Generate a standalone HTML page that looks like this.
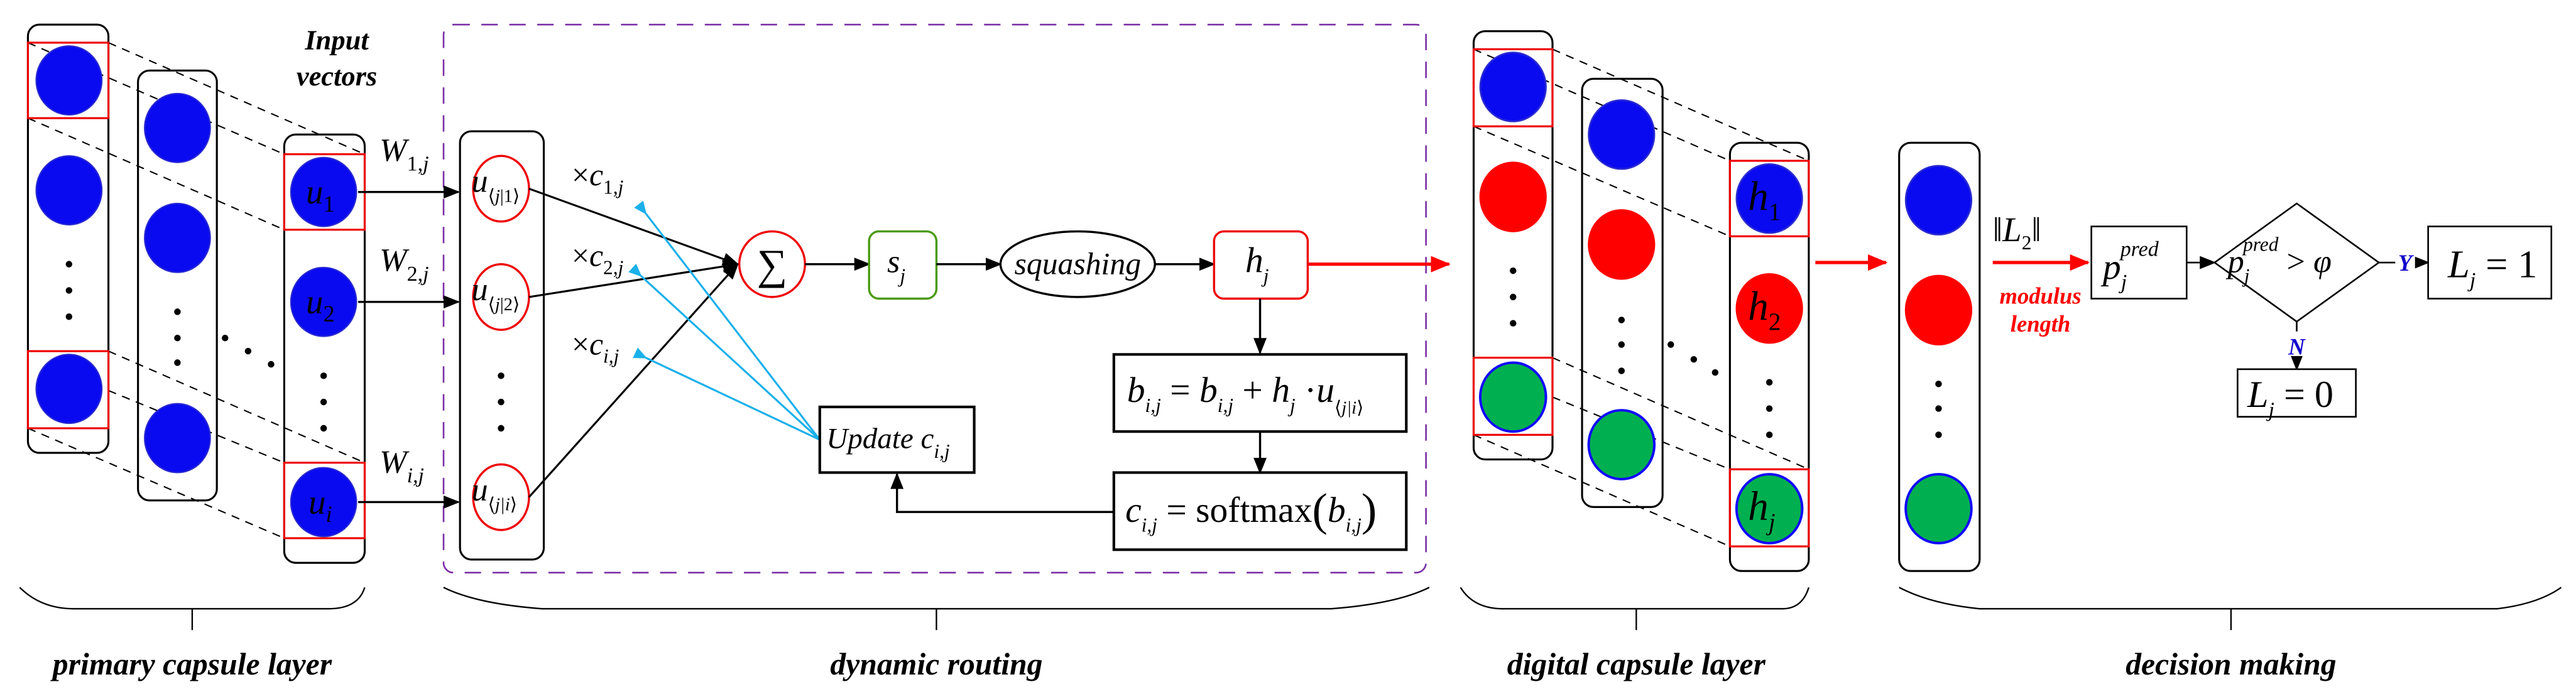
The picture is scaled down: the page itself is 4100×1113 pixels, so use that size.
<!DOCTYPE html>
<html><head><meta charset="utf-8"><style>
html,body{margin:0;padding:0;background:#fff;}
svg{display:block;font-family:"Liberation Serif","DejaVu Serif",serif;}
text,tspan{font-family:"Liberation Serif","DejaVu Serif",serif;}
.m{font-style:italic;}
</style></head><body>
<svg width="4100" height="1113" viewBox="0 0 1568 426" preserveAspectRatio="none" xmlns="http://www.w3.org/2000/svg" font-family="Liberation Serif, DejaVu Serif, serif">
<defs>
<marker id="ak" markerWidth="10" markerHeight="8" refX="9" refY="4" orient="auto" markerUnits="userSpaceOnUse"><path d="M0,0 L10,4 L0,8 z" fill="#000"/></marker>
<marker id="ar" markerWidth="12" markerHeight="10" refX="11" refY="5" orient="auto" markerUnits="userSpaceOnUse"><path d="M0,0 L12,5 L0,10 z" fill="#f00"/></marker>
<marker id="ab" markerWidth="8" markerHeight="7" refX="1" refY="3.5" orient="auto" markerUnits="userSpaceOnUse"><path d="M8,0 L0,3.5 L8,7 z" fill="#1ab0ea"/></marker>
</defs>
<rect width="1568" height="426" fill="#fff"/>

<rect x="270" y="15" width="598" height="334" rx="6" fill="none" stroke="#7b2fa6" stroke-width="1" stroke-dasharray="10,7"/>

<g stroke="#000" stroke-width="0.8" stroke-dasharray="5,4" fill="none">
<line x1="17" y1="26" x2="173" y2="94"/><line x1="66" y1="26" x2="222" y2="94"/><line x1="17" y1="72" x2="173" y2="140"/>
<line x1="66" y1="214" x2="222" y2="282"/><line x1="66" y1="238" x2="173" y2="282"/><line x1="17" y1="261" x2="173" y2="328"/>
</g>
<g stroke="#000" stroke-width="1.2" fill="none">
<rect x="17" y="15" width="49" height="261" rx="7"/>
<rect x="84" y="43" width="48" height="262" rx="7"/>
<rect x="173" y="82" width="49" height="261" rx="7"/>
</g>
<g fill="#0a0af0" stroke="#2a2ad0" stroke-width="0.8">
<ellipse cx="42" cy="49" rx="20" ry="21"/><ellipse cx="42" cy="116" rx="20" ry="21"/><ellipse cx="42" cy="237" rx="20" ry="21"/>
<ellipse cx="108" cy="78" rx="20" ry="21"/><ellipse cx="108" cy="145" rx="20" ry="21"/><ellipse cx="108" cy="267" rx="20" ry="21"/>
<ellipse cx="197" cy="117" rx="20" ry="21"/><ellipse cx="197" cy="184" rx="20" ry="21"/><ellipse cx="197" cy="306" rx="20" ry="21"/>
</g>
<g fill="none" stroke="#e00" stroke-width="1.2">
<rect x="17" y="26" width="49" height="46"/><rect x="17" y="214" width="49" height="47"/>
<rect x="173" y="94" width="49" height="46"/><rect x="173" y="282" width="49" height="46"/>
</g>
<g fill="#000">
<circle cx="42" cy="161" r="2"/><circle cx="42" cy="177" r="2"/><circle cx="42" cy="193" r="2"/>
<circle cx="108" cy="190" r="2"/><circle cx="108" cy="206" r="2"/><circle cx="108" cy="221" r="2"/>
<circle cx="137" cy="206" r="2"/><circle cx="151" cy="214" r="2"/><circle cx="165" cy="222" r="2"/>
<circle cx="197" cy="229" r="2"/><circle cx="197" cy="245" r="2"/><circle cx="197" cy="261" r="2"/>
</g>
<g font-size="21" class="m" text-anchor="middle">
<text x="195" y="124" class="m">u<tspan font-size="14" dy="5" font-style="normal">1</tspan></text>
<text x="195" y="191" class="m">u<tspan font-size="14" dy="5" font-style="normal">2</tspan></text>
<text x="195" y="313" class="m">u<tspan font-size="14" dy="5">i</tspan></text>
</g>
<text x="205" y="30" font-size="17" font-weight="bold" font-style="italic" text-anchor="middle">Input</text>
<text x="205" y="52" font-size="17" font-weight="bold" font-style="italic" text-anchor="middle">vectors</text>

<g stroke="#000" stroke-width="1.3" marker-end="url(#ak)">
<line x1="218" y1="117" x2="279" y2="117"/><line x1="218" y1="184" x2="279" y2="184"/><line x1="218" y1="306" x2="279" y2="306"/>
</g>
<g font-size="20" class="m">
<text x="231" y="98" class="m">W<tspan font-size="13" dy="6" font-style="normal">1,</tspan><tspan font-size="13">j</tspan></text>
<text x="231" y="165" class="m">W<tspan font-size="13" dy="6" font-style="normal">2,</tspan><tspan font-size="13">j</tspan></text>
<text x="231" y="288" class="m">W<tspan font-size="13" dy="6">i,j</tspan></text>
</g>

<rect x="280" y="80" width="51" height="261" rx="7" fill="none" stroke="#000" stroke-width="1.2"/>
<g fill="#fff" stroke="#e00" stroke-width="1.3">
<ellipse cx="305" cy="115" rx="17" ry="20"/><ellipse cx="305" cy="181" rx="17" ry="20"/><ellipse cx="305" cy="303" rx="17" ry="20"/>
</g>
<g fill="#000"><circle cx="305" cy="229" r="2"/><circle cx="305" cy="245" r="2"/><circle cx="305" cy="261" r="2"/></g>
<g font-size="20" class="m">
<text x="287" y="117" class="m">u<tspan font-size="11" dy="6" font-style="normal">⟨</tspan><tspan font-size="11" class="m">j</tspan><tspan font-size="11" font-style="normal">|1⟩</tspan></text>
<text x="287" y="183" class="m">u<tspan font-size="11" dy="6" font-style="normal">⟨</tspan><tspan font-size="11" class="m">j</tspan><tspan font-size="11" font-style="normal">|2⟩</tspan></text>
<text x="287" y="305" class="m">u<tspan font-size="11" dy="6" font-style="normal">⟨</tspan><tspan font-size="11" class="m">j|i</tspan><tspan font-size="11" font-style="normal">⟩</tspan></text>
</g>
<g font-size="19">
<text x="348" y="113">×<tspan class="m">c</tspan><tspan font-size="12" dy="5" font-style="normal">1,</tspan><tspan font-size="12" class="m">j</tspan></text>
<text x="348" y="162">×<tspan class="m">c</tspan><tspan font-size="12" dy="5" font-style="normal">2,</tspan><tspan font-size="12" class="m">j</tspan></text>
<text x="348" y="216">×<tspan class="m">c</tspan><tspan font-size="12" dy="5" class="m">i,j</tspan></text>
</g>
<g stroke="#000" stroke-width="1.2" marker-end="url(#ak)">
<line x1="322" y1="115" x2="449" y2="161"/><line x1="322" y1="181" x2="449" y2="161"/><line x1="322" y1="303" x2="449" y2="161"/>
</g>
<g stroke="#1ab0ea" stroke-width="1.2" marker-end="url(#ab)">
<line x1="499" y1="268" x2="393" y2="130"/><line x1="499" y1="268" x2="390" y2="168"/><line x1="499" y1="268" x2="393" y2="218"/>
</g>
<ellipse cx="470" cy="161" rx="20" ry="20" fill="#fff" stroke="#e00" stroke-width="1.3"/>
<text x="470" y="170" font-size="26" text-anchor="middle">∑</text>
<line x1="490" y1="161" x2="529" y2="161" stroke="#000" stroke-width="1.3" marker-end="url(#ak)"/>
<rect x="529" y="141" width="41" height="41" rx="6" fill="#fff" stroke="#4a9a10" stroke-width="1.3"/>
<text x="540" y="166" font-size="20" class="m">s<tspan font-size="12" dy="6">j</tspan></text>
<line x1="570" y1="161" x2="609" y2="161" stroke="#000" stroke-width="1.3" marker-end="url(#ak)"/>
<ellipse cx="656" cy="161" rx="47" ry="20" fill="#fff" stroke="#000" stroke-width="1.3"/>
<text x="656" y="167" font-size="19" class="m" text-anchor="middle">squashing</text>
<line x1="703" y1="161" x2="739" y2="161" stroke="#000" stroke-width="1.3" marker-end="url(#ak)"/>
<rect x="739" y="141" width="57" height="41" rx="6" fill="#fff" stroke="#e00" stroke-width="1.3"/>
<text x="758" y="166" font-size="22" class="m">h<tspan font-size="12" dy="6">j</tspan></text>
<line x1="796" y1="161" x2="882" y2="161" stroke="#f00" stroke-width="2" marker-end="url(#ar)"/>
<line x1="767" y1="182" x2="767" y2="215" stroke="#000" stroke-width="1.3" marker-end="url(#ak)"/>
<rect x="678" y="216" width="178" height="47" fill="#fff" stroke="#000" stroke-width="1.6"/>
<text x="686" y="245" font-size="22" class="m">b<tspan font-size="12" dy="6">i,j</tspan><tspan dy="-6" font-style="normal"> = </tspan>b<tspan font-size="12" dy="6">i,j</tspan><tspan dy="-6" font-style="normal"> + </tspan>h<tspan font-size="12" dy="6">j</tspan><tspan dy="-6" font-style="normal"> ·</tspan>u<tspan font-size="11" dy="7" font-style="normal">⟨</tspan><tspan font-size="11">j|i</tspan><tspan font-size="11" font-style="normal">⟩</tspan></text>
<line x1="767" y1="263" x2="767" y2="288" stroke="#000" stroke-width="1.3" marker-end="url(#ak)"/>
<rect x="678" y="288" width="178" height="47" fill="#fff" stroke="#000" stroke-width="1.6"/>
<text x="685" y="318" font-size="22" class="m">c<tspan font-size="12" dy="6">i,j</tspan><tspan dy="-6" font-style="normal"> = softmax</tspan><tspan font-style="normal" font-size="28" dy="2">(</tspan><tspan dy="-2">b</tspan><tspan font-size="12" dy="6">i,j</tspan><tspan font-style="normal" font-size="28" dy="-4">)</tspan></text>
<polyline points="678,312 546,312 546,289" fill="none" stroke="#000" stroke-width="1.3" marker-end="url(#ak)"/>
<rect x="499" y="248" width="94" height="40" fill="#fff" stroke="#000" stroke-width="1.6"/>
<text x="503" y="273" font-size="18" class="m">Update c<tspan font-size="12" dy="6">i,j</tspan></text>

<g stroke="#000" stroke-width="0.8" stroke-dasharray="5,4" fill="none">
<line x1="897" y1="30" x2="1053" y2="98"/><line x1="945" y1="30" x2="1101" y2="98"/><line x1="897" y1="77" x2="1053" y2="144"/>
<line x1="945" y1="218" x2="1101" y2="286"/><line x1="945" y1="242" x2="1053" y2="286"/><line x1="897" y1="265" x2="1053" y2="333"/>
</g>
<g stroke="#000" stroke-width="1.2" fill="none">
<rect x="897" y="19" width="48" height="261" rx="7"/>
<rect x="963" y="48" width="49" height="261" rx="7"/>
<rect x="1053" y="87" width="48" height="261" rx="7"/>
<rect x="1156" y="87" width="49" height="261" rx="7"/>
</g>
<g stroke-width="1">
<ellipse cx="921" cy="53" rx="20" ry="21" fill="#0a0af0" stroke="#2a2ad0"/>
<ellipse cx="921" cy="120" rx="20" ry="21" fill="#f00" stroke="#f00"/>
<ellipse cx="921" cy="242" rx="20" ry="21" fill="#00b050" stroke="#10f" stroke-width="1.5"/>
<ellipse cx="987" cy="82" rx="20" ry="21" fill="#0a0af0" stroke="#2a2ad0"/>
<ellipse cx="987" cy="149" rx="20" ry="21" fill="#f00" stroke="#f00"/>
<ellipse cx="987" cy="271" rx="20" ry="21" fill="#00b050" stroke="#10f" stroke-width="1.5"/>
<ellipse cx="1077" cy="121" rx="20" ry="21" fill="#0a0af0" stroke="#2a2ad0"/>
<ellipse cx="1077" cy="188" rx="20" ry="21" fill="#f00" stroke="#f00"/>
<ellipse cx="1077" cy="310" rx="20" ry="21" fill="#00b050" stroke="#10f" stroke-width="1.5"/>
<ellipse cx="1180" cy="122" rx="20" ry="21" fill="#0a0af0" stroke="#2a2ad0"/>
<ellipse cx="1180" cy="189" rx="20" ry="21" fill="#f00" stroke="#f00"/>
<ellipse cx="1180" cy="310" rx="20" ry="21" fill="#00b050" stroke="#10f" stroke-width="1.5"/>
</g>
<g fill="none" stroke="#e00" stroke-width="1.2">
<rect x="897" y="30" width="48" height="47"/><rect x="897" y="218" width="48" height="47"/>
<rect x="1053" y="98" width="48" height="46"/><rect x="1053" y="286" width="48" height="47"/>
</g>
<g fill="#000">
<circle cx="921" cy="165" r="2"/><circle cx="921" cy="181" r="2"/><circle cx="921" cy="197" r="2"/>
<circle cx="987" cy="195" r="2"/><circle cx="987" cy="210" r="2"/><circle cx="987" cy="226" r="2"/>
<circle cx="1017" cy="210" r="2"/><circle cx="1031" cy="219" r="2"/><circle cx="1044" cy="227" r="2"/>
<circle cx="1077" cy="233" r="2"/><circle cx="1077" cy="249" r="2"/><circle cx="1077" cy="265" r="2"/>
<circle cx="1180" cy="234" r="2"/><circle cx="1180" cy="249" r="2"/><circle cx="1180" cy="265" r="2"/>
</g>
<g font-size="25" class="m">
<text x="1064" y="128" class="m">h<tspan font-size="15" dy="6" font-style="normal">1</tspan></text>
<text x="1064" y="195" class="m">h<tspan font-size="15" dy="6" font-style="normal">2</tspan></text>
<text x="1064" y="317" class="m">h<tspan font-size="15" dy="6">j</tspan></text>
</g>
<line x1="1105" y1="160" x2="1148" y2="160" stroke="#f00" stroke-width="2" marker-end="url(#ar)"/>

<text x="1213" y="147" font-size="21" class="m"><tspan font-style="normal">‖</tspan>L<tspan font-size="12" dy="5" font-style="normal">2</tspan><tspan dy="-5" font-style="normal">‖</tspan></text>
<line x1="1213" y1="160" x2="1271" y2="160" stroke="#f00" stroke-width="2" marker-end="url(#ar)"/>
<text x="1242" y="185" font-size="14" font-weight="bold" font-style="italic" fill="#f00" text-anchor="middle">modulus</text>
<text x="1242" y="202" font-size="14" font-weight="bold" font-style="italic" fill="#f00" text-anchor="middle">length</text>
<rect x="1273" y="138" width="58" height="44" fill="#fff" stroke="#000" stroke-width="1"/>
<text x="1280" y="170" font-size="22" class="m">p<tspan font-size="13" dy="6">j</tspan><tspan font-size="13" dx="-4" dy="-20">pred</tspan></text>
<line x1="1331" y1="160" x2="1348" y2="160" stroke="#000" stroke-width="1" marker-end="url(#ak)"/>
<polygon points="1348,160 1398,124 1448,160 1398,196" fill="#fff" stroke="#000" stroke-width="1"/>
<text x="1356" y="166" font-size="20" class="m">p<tspan font-size="12" dy="6">j</tspan><tspan font-size="12" dx="-4" dy="-19">pred</tspan><tspan font-size="20" dy="13" font-style="normal"> &gt; </tspan>φ</text>
<line x1="1448" y1="160" x2="1478" y2="160" stroke="#000" stroke-width="1" marker-end="url(#ak)"/>
<rect x="1458" y="152" width="12" height="14" fill="#fff"/>
<text x="1464" y="165" font-size="14" font-weight="bold" font-style="italic" fill="#10c" text-anchor="middle">Y</text>
<rect x="1478" y="138" width="75" height="44" fill="#fff" stroke="#000" stroke-width="1"/>
<text x="1490" y="169" font-size="24" class="m">L<tspan font-size="13" dy="6">j</tspan><tspan dy="-6" font-style="normal"> = 1</tspan></text>
<line x1="1398" y1="196" x2="1398" y2="225" stroke="#000" stroke-width="1" marker-end="url(#ak)"/>
<rect x="1392" y="202" width="12" height="15" fill="#fff"/>
<text x="1398" y="216" font-size="14" font-weight="bold" font-style="italic" fill="#10c" text-anchor="middle">N</text>
<rect x="1362" y="225" width="72" height="29" fill="#fff" stroke="#000" stroke-width="1"/>
<text x="1368" y="248" font-size="23" class="m">L<tspan font-size="13" dy="6">j</tspan><tspan dy="-6" font-style="normal"> = 0</tspan></text>

<g fill="none" stroke="#000" stroke-width="0.9">
<path d="M12,358 Q25,371 45,371 L200,371 Q218,371 222,358"/><line x1="117" y1="371" x2="117" y2="384"/>
<path d="M270,358 Q290,368 330,371 L810,371 Q850,368 870,358"/><line x1="570" y1="371" x2="570" y2="384"/>
<path d="M889,358 Q897,371 915,371 L1085,371 Q1097,371 1101,358"/><line x1="996" y1="371" x2="996" y2="384"/>
<path d="M1156,358 Q1175,368 1205,371 L1520,371 Q1545,368 1559,358"/><line x1="1358" y1="371" x2="1358" y2="384"/>
</g>
<g font-size="19" font-weight="bold" font-style="italic" text-anchor="middle">
<text x="117" y="411">primary capsule layer</text>
<text x="570" y="411">dynamic routing</text>
<text x="996" y="411">digital capsule layer</text>
<text x="1358" y="411">decision making</text>
</g>
</svg>
</body></html>
